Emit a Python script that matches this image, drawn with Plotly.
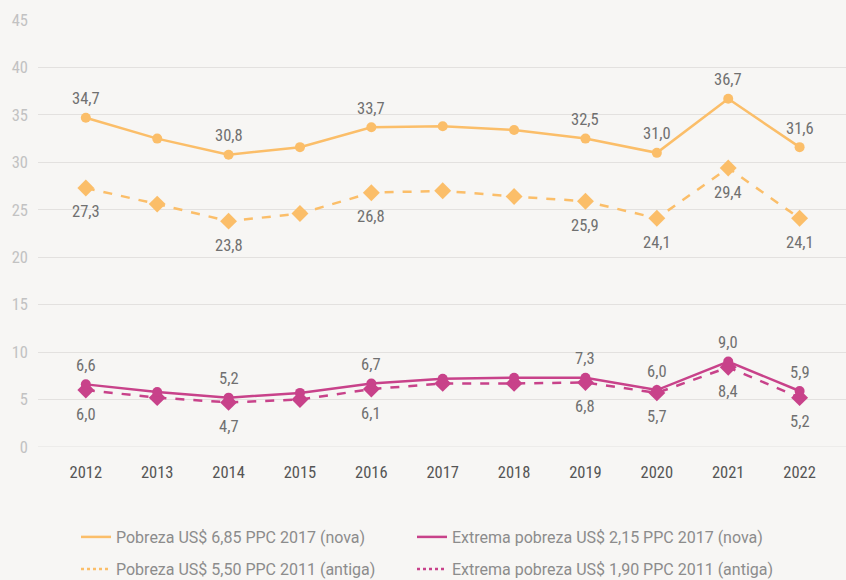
import plotly.graph_objects as go

years = [2012, 2013, 2014, 2015, 2016, 2017, 2018, 2019, 2020, 2021, 2022]
pobreza_nova = [34.7, 32.5, 30.8, 31.6, 33.7, 33.8, 33.4, 32.5, 31.0, 36.7, 31.6]
pobreza_antiga = [27.3, 25.6, 23.8, 24.6, 26.8, 27.0, 26.4, 25.9, 24.1, 29.4, 24.1]
extrema_nova = [6.6, 5.8, 5.2, 5.7, 6.7, 7.2, 7.3, 7.3, 6.0, 9.0, 5.9]
extrema_antiga = [6.0, 5.2, 4.7, 5.0, 6.1, 6.7, 6.7, 6.8, 5.7, 8.4, 5.2]
labeled_years = [2012, 2014, 2016, 2019, 2020, 2021, 2022]
y_ticks = [0, 5, 10, 15, 20, 25, 30, 35, 40, 45]

names = [
    "Pobreza US$ 6,85 PPC 2017 (nova)",
    "Extrema pobreza US$ 2,15 PPC 2017 (nova)",
    "Pobreza US$ 5,50 PPC 2011 (antiga)",
    "Extrema pobreza US$ 1,90 PPC 2011 (antiga)",
]

ORANGE = "#FBBE69"
MAGENTA = "#C8428A"
BG = "#F7F6F4"
COND = "Roboto Condensed, Liberation Sans Narrow, Arial Narrow, Roboto, sans-serif"
LABEL_FONT = dict(family=COND, size=16.5, color="#707070")

series = [
    (pobreza_nova, ORANGE, "solid", "circle", 10, 19),
    (extrema_nova, MAGENTA, "solid", "circle", 10, 19),
    (pobreza_antiga, ORANGE, "dash", "diamond", 13, -24),
    (extrema_antiga, MAGENTA, "dash", "diamond", 13, -24),
]

fig = go.Figure()
annotations = []
for idx in [2, 3, 0, 1]:
    vals, color, dash, symbol, msize, shift = series[idx]
    fig.add_trace(go.Scatter(
        x=years, y=vals, mode="lines+markers",
        line=dict(color=color, width=2.5, dash=dash),
        marker=dict(symbol=symbol, size=msize, color=color),
        showlegend=False, hoverinfo="skip",
    ))
    for yr, v in zip(years, vals):
        if yr in labeled_years:
            annotations.append(dict(
                x=yr, y=v, xref="x", yref="y",
                text=f"{v:.1f}".replace(".", ","),
                showarrow=False, yshift=shift, font=LABEL_FONT,
            ))

legend_ids = ["legend", "legend2", "legend3", "legend4"]
for i, (vals, color, dash, symbol, msize, shift) in enumerate(series):
    fig.add_trace(go.Scatter(
        x=[None], y=[None], mode="lines", name=names[i],
        line=dict(color=color, width=2.5, dash=dash if dash == "solid" else "3px,3px"),
        legend=legend_ids[i], showlegend=True,
    ))

PLOT_L, PLOT_R, PLOT_T, PLOT_B = 38, 846, 20, 447
W, H = 846, 580


def cx(px):
    return px / W


def cy(py):
    return 1 - py / H


legend_font = dict(family="Roboto, Open Sans, sans-serif", size=16, color="#8C8C8C")
leg_common = dict(orientation="h", xanchor="left", yanchor="middle", bgcolor="rgba(0,0,0,0)",
                  font=legend_font, itemwidth=30, xref="container", yref="container")

fig.update_layout(
    width=W, height=H,
    margin=dict(l=PLOT_L, r=W - PLOT_R, t=PLOT_T, b=H - PLOT_B, autoexpand=False),
    paper_bgcolor=BG, plot_bgcolor=BG,
    annotations=annotations,
    legend=dict(x=cx(76), y=cy(537), **leg_common),
    legend2=dict(x=cx(412), y=cy(537), **leg_common),
    legend3=dict(x=cx(76), y=cy(569), **leg_common),
    legend4=dict(x=cx(412), y=cy(569), **leg_common),
    xaxis=dict(
        range=[2011.33, 2022.65], tickmode="array", tickvals=years,
        ticktext=[str(y) for y in years], showgrid=False, zeroline=False,
        showline=False, ticks="", ticklabelstandoff=13,
        tickfont=dict(family=COND, size=16.5, color="#555555"),
    ),
    yaxis=dict(
        range=[0, 45], tickmode="array", tickvals=y_ticks,
        ticktext=[str(v) for v in y_ticks], showgrid=True, gridcolor="#E3E1DF",
        gridwidth=1.2, zeroline=False, showline=False, ticks="", ticklabelstandoff=9,
        tickfont=dict(family=COND, size=16.5, color="#C2C2C2"),
    ),
)
fig.add_hline(y=0, line=dict(color="#E3E1DF", width=1.2), layer="below")

fig.write_html(
    "out.html",
    config={"displayModeBar": False},
    post_script="document.body.style.margin='0';document.body.style.background='#F7F6F4';document.body.style.overflow='hidden';",
)
